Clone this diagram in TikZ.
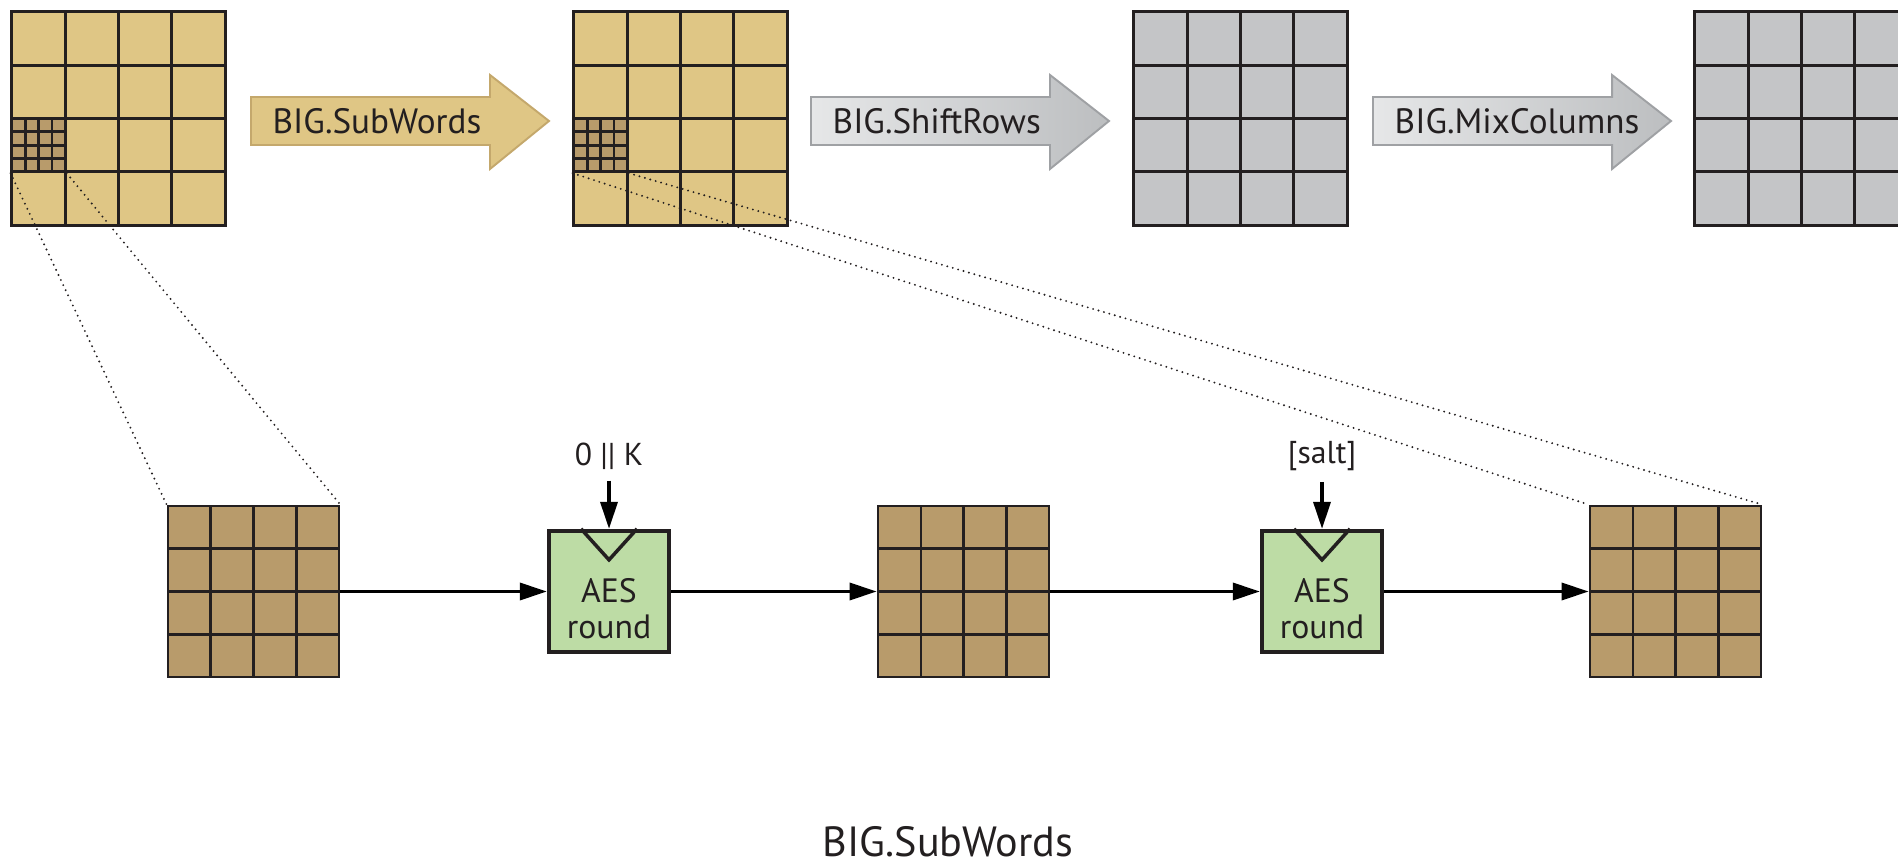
\documentclass[tikz,border=0pt]{standalone}
\usepackage{fontspec}
\setmainfont{PT Sans}
\usetikzlibrary{positioning,calc,arrows.meta}

\definecolor{ink}{HTML}{231F20}
\definecolor{sand}{HTML}{DFC685}
\definecolor{sandedge}{HTML}{C4A86C}
\definecolor{umber}{HTML}{B89B6B}
\definecolor{ash}{HTML}{C4C5C7}
\definecolor{ashlite}{HTML}{E6E7E8}
\definecolor{ashdark}{HTML}{BCBEC0}
\definecolor{ashedge}{HTML}{9FA1A4}
\definecolor{leaf}{HTML}{BDDCA5}

\tikzset{
  cells/.style={path picture={
    \foreach \k in {1,2,3}{
      \draw[ink, line width=#1]
        ($(path picture bounding box.north west)!\k/4!(path picture bounding box.north east)$) --
        ($(path picture bounding box.south west)!\k/4!(path picture bounding box.south east)$)
        ($(path picture bounding box.north west)!\k/4!(path picture bounding box.south west)$) --
        ($(path picture bounding box.north east)!\k/4!(path picture bounding box.south east)$);
    }}},
  bigstate/.style={draw=ink, line width=0.85pt, fill=#1, minimum size=2.13cm, inner sep=0pt, cells=0.85pt},
  substate/.style={draw=ink, line width=0.8pt, fill=umber, minimum size=0.5325cm, inner sep=0pt, cells=0.8pt},
  smallstate/.style={draw=ink, line width=0.75pt, fill=umber, minimum size=1.71cm, inner sep=0pt, cells=0.7pt},
  aesbox/.style={draw=ink, line width=1.2pt, fill=leaf, minimum width=1.2cm, minimum height=1.21cm, inner sep=0pt},
  aestext/.style={text=ink, align=center, font=\fontsize{9.6}{10.2}\selectfont},
  inlabel/.style={text=ink, inner sep=3pt, font=\fontsize{9}{10}\selectfont},
  flowtext/.style={text=ink, anchor=west, inner sep=0pt, font=\fontsize{10}{12}\selectfont},
  caption/.style={text=ink, font=\fontsize{12}{14}\selectfont},
  goldarrow/.style={fill=sand, draw=sandedge, line width=0.55pt},
  ashyarrow/.style={left color=ashlite, right color=ashdark, draw=ashedge, line width=0.55pt},
  flow/.style={-{Triangle[length=0.27cm,width=0.17cm]}, line width=1pt},
  zoomline/.style={ink, line width=0.6pt, line cap=round, dash pattern=on 0pt off 1.6pt}
}

\begin{document}
\begin{tikzpicture}[x=0.01cm, y=-0.01cm]
\useasboundingbox (0,0) rectangle (1898,864);
\clip (0,0) rectangle (1898,864);

\node[bigstate=sand] (g1) at (118.5,118.5) {};
\node[bigstate=sand] (g2) at (680.5,118.5) {};
\node[bigstate=ash] (g3) at (1240.5,118.5) {};
\node[bigstate=ash] (g4) at (1801.5,118.5) {};
\node[substate] (s1) at (38.6,145.1) {};
\node[substate] (s2) at (600.6,145.1) {};

\foreach \x/\nm/\txt/\sty in {251/subw/BIG.SubWords/goldarrow, 811/shift/BIG.ShiftRows/ashyarrow, 1373/mixc/BIG.MixColumns/ashyarrow}{
  \draw[\sty] (\x,97) -- ++(239,0) -- ++(0,-22) -- ++(59,46) -- ++(-59,48) -- ++(0,-24) -- ++(-239,0) -- cycle;
  \node[flowtext] (\nm) at (\x+21,121) {\txt};
}

\node[smallstate] (b1) at (253.5,591.5) {};
\node[aesbox] (r1) at (609,591.5) {};
\node[smallstate] (b2) at (963.5,591.5) {};
\node[aesbox] (r2) at (1322,591.5) {};
\node[smallstate] (b3) at (1675.5,591.5) {};

\node[aestext] (r1t) at (609,609) {AES\\round};
\node[aestext] (r2t) at (1322,609) {AES\\round};
\node[inlabel] (k1) at (609,456) {0 || K};
\node[inlabel] (k2) at (1322,456) {[salt]};
\node[caption] (title) at (948,842) {BIG.SubWords};

\draw[ink, line width=1pt, line join=miter]
  ($(r1.north)+(-28,0)$) -- ($(r1.north)+(0,31)$) -- ($(r1.north)+(28,0)$)
  ($(r2.north)+(-28,0)$) -- ($(r2.north)+(0,31)$) -- ($(r2.north)+(28,0)$);

\draw
	(b1) edge[flow] (r1)
	(r1) edge[flow] (b2)
	(b2) edge[flow] (r2)
	(r2) edge[flow] (b3)
	(k1) edge[flow] (r1)
	(k2) edge[flow] (r2)
;

\draw[zoomline]
  (s1.south west) -- (b1.north west)
  (s1.south east) -- (b1.north east)
  (s2.south west) -- (b3.north west)
  (s2.south east) -- (b3.north east);
\end{tikzpicture}
\end{document}
